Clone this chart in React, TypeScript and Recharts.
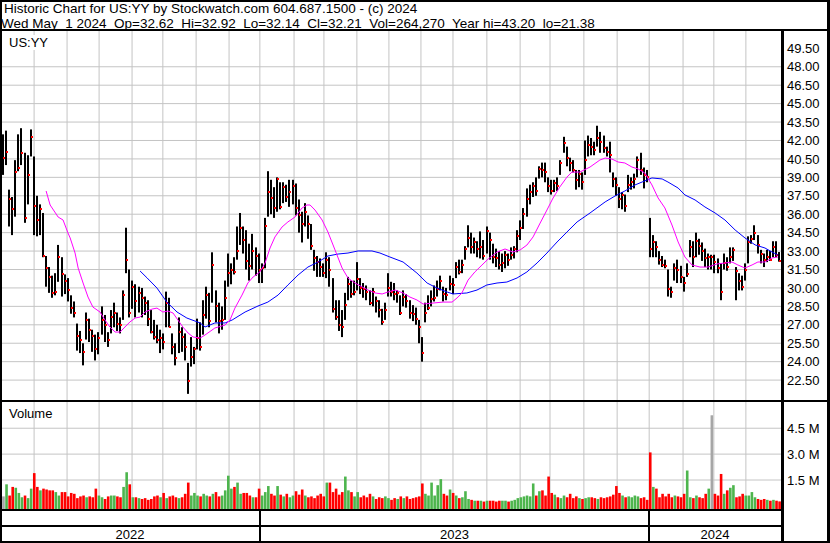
import { ComposedChart, Bar, Line, XAxis, YAxis, CartesianGrid } from 'recharts'

// one bar for every two trading days, May 2022 .. May 1 2024
const highs = [
  42.5, 42.8, 38.0, 37.4, 40.4, 42.5, 43.0, 41.0, 40.8, 42.9,
  40.7, 37.5, 36.8, 36.1, 32.6, 31.7, 31.0, 31.2, 33.5, 32.5,
  31.1, 30.8, 29.4, 28.9, 27.1, 26.5, 25.5, 28.0, 27.5, 26.6,
  26.2, 26.4, 28.5, 27.8, 26.4, 28.2, 28.8, 28.0, 27.6, 29.8,
  34.9, 31.5, 30.6, 30.3, 30.1, 30.0, 29.3, 29.0, 28.2, 27.4,
  27.0, 26.6, 26.3, 29.7, 29.2, 26.3, 25.5, 27.6, 26.8, 26.3,
  23.9, 26.0, 25.2, 27.5, 27.2, 29.0, 30.1, 29.6, 32.9, 29.8,
  28.8, 28.5, 30.6, 32.8, 32.0, 32.5, 35.0, 36.1, 35.0, 34.7,
  33.6, 34.4, 33.3, 32.8, 32.0, 35.7, 39.5, 38.8, 38.2, 39.0,
  38.6, 38.6, 38.4, 38.8, 38.8, 38.5, 37.2, 36.2, 36.9, 35.9,
  35.2, 33.1, 32.6, 32.4, 32.0, 32.9, 32.5, 30.8, 29.0, 29.0,
  28.2, 29.6, 30.9, 30.6, 30.6, 32.1, 30.8, 30.4, 30.2, 29.8,
  30.0, 29.3, 29.0, 28.3, 28.8, 31.2, 30.5, 30.4, 29.8, 29.4,
  29.8, 29.5, 29.0, 28.6, 28.4, 27.4, 26.0, 28.8, 29.4, 29.8,
  30.2, 30.6, 31.0, 30.1, 30.0, 31.0, 30.8, 32.1, 32.3, 32.3,
  33.4, 35.1, 34.5, 34.1, 33.8, 34.6, 33.9, 35.0, 34.5, 33.6,
  33.2, 33.0, 32.8, 33.0, 32.8, 33.3, 33.4, 34.7, 35.5, 36.5,
  38.1, 38.4, 38.6, 39.0, 39.9, 40.2, 40.2, 39.0, 38.8, 38.8,
  39.0, 40.4, 42.3, 41.5, 40.6, 40.4, 39.6, 39.6, 39.4, 42.0,
  42.4, 42.2, 41.9, 43.2, 42.7, 42.4, 41.5, 41.9, 39.4, 39.0,
  38.2, 37.8, 37.6, 39.2, 39.0, 39.3, 40.7, 41.0, 39.8, 39.6,
  35.7, 34.3, 33.8, 33.0, 32.6, 32.3, 31.5, 30.1, 32.0, 32.3,
  31.8, 30.9, 32.0, 33.9, 33.8, 34.5, 34.0, 33.7, 33.2, 32.8,
  32.7, 32.7, 32.4, 32.0, 32.8, 32.5, 33.3, 33.3, 31.7, 31.2,
  31.0, 32.0, 34.2, 34.3, 35.1, 34.3, 33.1, 32.8, 33.1, 33.0,
  33.8, 33.8, 32.92,
]

const lows = [
  39.2, 40.0, 35.0, 34.3, 35.8, 39.5, 40.0, 35.3, 36.8, 40.7,
  34.3, 34.2, 34.3, 32.5, 30.1, 29.6, 29.2, 29.4, 30.5, 29.3,
  29.5, 28.9, 27.9, 27.6, 24.9, 24.7, 23.7, 25.8, 25.6, 24.8,
  24.1, 24.6, 26.2, 25.6, 25.2, 26.3, 26.8, 26.5, 26.3, 27.4,
  31.2, 27.6, 28.3, 27.6, 28.0, 27.6, 27.8, 26.9, 26.3, 25.8,
  25.5, 24.7, 25.0, 26.8, 26.8, 24.6, 23.7, 24.7, 24.8, 24.1,
  21.38, 23.6, 23.8, 25.0, 24.9, 26.2, 27.5, 26.8, 28.8, 27.2,
  26.3, 26.6, 27.4, 30.1, 30.3, 31.1, 32.3, 33.5, 32.8, 31.5,
  30.6, 31.5, 31.0, 30.4, 30.4, 31.6, 35.8, 36.0, 35.7, 36.2,
  36.4, 36.9, 37.0, 36.6, 36.8, 35.9, 34.5, 33.7, 35.0, 34.0,
  33.1, 31.4, 30.9, 30.9, 30.9, 30.8, 30.1, 28.0, 27.4, 26.5,
  26.0, 27.4, 29.0, 29.2, 29.4, 29.8, 29.5, 29.2, 29.0, 28.6,
  28.5, 28.0, 27.6, 27.0, 27.4, 29.3, 29.3, 29.0, 28.8, 27.8,
  28.5, 28.4, 27.5, 27.3, 27.0, 25.5, 24.0, 27.2, 28.2, 28.5,
  28.9, 29.3, 29.8, 28.9, 29.0, 29.8, 29.5, 30.8, 31.1, 31.2,
  32.3, 33.3, 32.8, 32.8, 32.5, 32.4, 32.3, 32.8, 32.3, 32.0,
  31.7, 31.5, 31.3, 31.6, 31.8, 32.3, 32.4, 32.9, 33.9, 34.8,
  35.8, 36.8, 37.4, 37.5, 38.9, 39.0, 38.6, 37.8, 37.6, 37.8,
  37.9, 39.2, 41.0, 39.9, 39.5, 39.4, 38.0, 38.2, 38.0, 39.2,
  40.7, 40.8, 40.8, 41.5, 41.0, 41.0, 40.7, 39.4, 38.2, 37.5,
  36.5, 36.4, 36.2, 37.8, 38.0, 38.1, 39.0, 39.2, 38.1, 38.6,
  32.5, 32.5, 32.5, 31.9, 31.7, 31.6, 29.3, 29.2, 30.6, 30.4,
  30.4, 29.7, 30.9, 32.5, 31.7, 32.5, 32.7, 32.2, 31.7, 31.5,
  31.5, 31.2, 31.2, 29.0, 31.5, 31.4, 32.0, 32.2, 29.0, 29.8,
  29.8, 30.6, 32.0, 33.6, 33.9, 32.8, 32.0, 31.7, 32.1, 32.2,
  32.5, 32.5, 32.14,
]

const closes = [
  40.6, 41.1, 37.2, 36.4, 39.4, 39.8, 41.0, 35.7, 39.2, 42.3,
  36.7, 35.5, 36.4, 32.6, 31.6, 30.9, 29.6, 29.7, 32.5, 31.1,
  30.6, 29.8, 28.4, 28.0, 26.1, 25.8, 24.8, 27.4, 26.6, 26.1,
  25.0, 25.9, 27.4, 27.0, 25.8, 27.6, 28.0, 27.1, 27.0, 29.4,
  32.3, 28.0, 30.1, 28.9, 29.6, 29.2, 28.8, 27.5, 26.4, 26.0,
  25.8, 25.9, 25.6, 28.8, 26.8, 25.2, 24.3, 26.4, 26.0, 25.2,
  22.4, 24.4, 25.0, 25.9, 25.2, 27.8, 29.4, 27.3, 31.9, 28.5,
  27.3, 27.4, 29.2, 31.2, 31.5, 31.3, 33.0, 34.9, 33.9, 32.2,
  31.8, 33.0, 32.6, 31.5, 31.6, 35.0, 37.8, 37.3, 36.5, 38.9,
  36.6, 38.2, 37.4, 37.8, 38.3, 36.5, 35.9, 35.2, 36.2, 35.2,
  33.4, 32.4, 32.1, 31.7, 31.2, 32.3, 31.5, 28.3, 27.6, 27.0,
  26.8, 28.6, 30.3, 29.5, 29.7, 30.7, 30.0, 29.9, 29.7, 28.8,
  29.7, 28.9, 28.2, 27.2, 28.2, 30.0, 29.7, 29.5, 29.6, 28.0,
  29.3, 28.9, 28.0, 27.9, 27.5, 26.8, 24.7, 28.0, 28.4, 29.1,
  29.2, 29.9, 30.6, 29.5, 29.4, 30.3, 30.2, 31.7, 31.3, 31.9,
  33.2, 34.1, 33.3, 33.7, 33.2, 33.3, 32.6, 34.6, 33.9, 32.5,
  32.4, 31.9, 32.0, 32.7, 32.3, 32.7, 33.2, 34.2, 34.9, 36.0,
  37.2, 37.8, 38.3, 37.9, 39.7, 39.6, 39.4, 38.3, 37.9, 38.5,
  38.3, 40.2, 41.8, 40.6, 40.2, 39.6, 38.8, 39.3, 38.6, 40.4,
  41.6, 41.5, 41.2, 42.2, 41.9, 41.4, 41.1, 40.8, 38.9, 38.4,
  37.2, 37.6, 36.7, 38.4, 38.6, 38.9, 40.4, 39.6, 39.2, 39.0,
  33.2, 33.7, 33.3, 32.3, 31.9, 31.8, 29.9, 29.7, 31.6, 31.5,
  30.9, 30.4, 31.1, 33.3, 32.5, 33.8, 33.4, 33.0, 32.4, 32.5,
  32.5, 32.1, 31.6, 29.7, 32.0, 31.7, 32.5, 33.1, 31.4, 30.6,
  30.1, 31.5, 33.7, 34.0, 34.5, 33.5, 32.8, 32.3, 32.5, 32.3,
  33.3, 32.7, 32.21,
]

// millions of shares
const volumes = [
  0.55, 1.25, 0.6, 1.1, 1.05, 0.75, 0.5, 0.6, 0.45, 1.0,
  1.9, 1.1, 0.9, 1.0, 0.95, 0.9, 0.9, 0.8, 0.6, 0.8,
  0.8, 0.55, 0.75, 0.7, 0.45, 0.55, 0.6, 0.5, 0.55, 0.5,
  1.0, 0.6, 0.5, 0.4, 0.55, 0.6, 0.6, 0.55, 0.5, 1.1,
  1.95, 1.25, 0.5, 0.5, 0.45, 0.4, 0.45, 0.35, 0.4, 0.55,
  0.6, 0.5, 0.75, 0.45, 0.55, 0.6, 0.5, 0.45, 0.5, 0.7,
  1.35, 0.6, 0.75, 0.6, 0.55, 0.7, 0.6, 0.55, 0.7, 0.8,
  0.55, 0.6, 0.9, 1.75, 1.0, 1.1, 1.35, 0.7, 0.75, 0.75,
  0.6, 0.5, 0.5, 1.0, 0.6, 0.8, 1.15, 0.7, 0.6, 1.15,
  0.65, 0.55, 0.7, 0.5, 0.6, 0.85, 0.65, 0.95, 0.6, 0.5,
  0.55, 0.45, 0.6, 0.7, 0.55, 1.35, 1.35, 0.8, 1.0, 0.65,
  0.8, 1.7, 0.9, 0.8, 0.55, 0.8, 0.5, 0.6, 0.5, 0.7,
  0.55, 0.4, 0.5, 0.45, 0.55, 0.45, 0.35, 0.45, 0.4, 0.55,
  0.45, 0.55, 0.4, 0.45, 0.5, 0.55, 1.3, 0.7, 0.6, 1.35,
  0.6, 1.2, 1.55, 0.7, 0.6, 0.95, 0.75, 0.6, 0.45, 0.5,
  0.85, 0.4, 0.35, 0.3, 0.3, 0.3, 0.25, 0.3, 0.3, 0.3,
  0.25, 0.3, 0.3, 0.3, 0.25, 0.3, 0.35, 0.45, 0.5, 0.55,
  0.6, 0.55, 1.3, 0.6, 0.85, 0.9, 0.6, 1.7, 0.75, 0.65,
  0.5, 0.45, 0.6, 0.5, 0.7, 0.45, 0.55, 0.45, 0.4, 0.45,
  0.5, 0.5, 0.45, 0.4, 0.5, 0.45, 0.5, 0.55, 0.65, 1.15,
  0.75, 0.6, 0.5, 0.55, 0.5, 0.6, 0.55, 0.45, 0.5, 0.35,
  3.1, 1.1, 1.0, 0.5, 0.7, 0.55, 0.7, 0.5, 0.6, 0.55,
  0.5, 0.7, 2.05, 0.5, 0.45, 0.6, 0.5, 0.45, 0.7, 1.0,
  5.25, 0.7, 0.6, 1.85, 0.7, 0.9, 1.05, 1.2, 0.5, 0.55,
  0.7, 0.6, 0.6, 0.8, 0.5, 0.4, 0.35, 0.4, 0.35, 0.3,
  0.35, 0.3, 0.26,
]

// magenta (short) moving average
const fastMaIndex = [
  14.0, 15.3, 17.9, 19.5, 21.1, 21.8, 23.4, 24.4, 26.0, 27.6, 29.2, 31.5, 33.1, 34.7, 36.4, 38.0,
  39.6, 41.2, 42.9, 44.5, 46.1, 48.4, 50.0, 51.9, 53.6, 55.2, 56.8, 58.4, 60.1, 61.7, 64.0, 65.6,
  68.8, 72.1, 73.7, 75.3, 77.6, 79.5, 81.2, 83.4, 85.1, 86.7, 88.3, 90.6, 92.5, 94.8, 97.1, 98.7,
  99.7, 101.3, 103.6, 105.5, 107.8, 110.1, 112.0, 114.3, 116.6, 118.5, 120.8, 123.1, 125.0, 127.3,
  129.9, 132.1, 134.4, 136.4, 139.6, 142.9, 145.8, 147.4, 149.0, 151.0, 153.2, 155.5, 157.5, 160.4,
  163.0, 165.6, 167.9, 170.1, 172.1, 174.4, 176.6, 178.6, 180.8, 183.1, 184.7, 187.3, 190.6, 193.8,
  195.5, 197.7, 199.7, 201.9, 204.2, 206.2, 208.4, 210.7, 212.7, 214.9, 217.2, 219.2, 221.4, 223.7,
  226.3, 228.9, 231.8, 234.4, 236.7, 238.6, 240.9, 243.2, 245.1, 247.4, 249.7, 251.6,
]
const fastMaValue = [
  37.89, 36.75, 35.77, 35.53, 34.47, 34.07, 32.84, 31.62, 30.40, 29.26, 28.44, 28.04, 27.39, 26.82, 26.41, 26.41,
  26.82, 27.23, 27.55, 27.63, 28.04, 28.28, 28.36, 28.04, 28.12, 27.96, 27.39, 26.82, 26.33, 26.01, 25.92, 26.17,
  26.74, 26.98, 27.39, 28.36, 29.42, 30.40, 30.89, 31.30, 32.03, 33.25, 34.15, 34.96, 35.37, 35.77, 36.51, 36.75,
  36.75, 36.34, 35.53, 34.55, 33.09, 31.62, 30.81, 30.40, 30.08, 29.83, 29.59, 29.51, 29.67, 29.83,
  29.59, 29.26, 29.02, 28.69, 28.77, 28.85, 28.85, 29.18, 29.59, 30.64, 31.30, 31.86, 32.35, 32.92,
  33.17, 32.92, 33.09, 33.49, 34.15, 35.28, 36.34, 37.32, 38.22, 39.02, 39.43, 39.43, 39.84, 40.41,
  40.57, 40.49, 40.25, 40.17, 39.84, 39.68, 39.35, 38.38, 37.32, 36.51, 35.12, 33.74, 32.52, 31.87,
  31.70, 31.70, 31.95, 32.03, 32.11, 31.87, 31.62, 31.87, 32.11, 32.11, 32.44, 32.52,
]

// blue (long) moving average
const slowMaIndex = [
  44.5, 46.8, 50.0, 53.2, 56.5, 59.7, 64.0, 65.6, 68.8, 72.1, 74.4, 78.6, 82.8, 86.0, 89.3, 92.5,
  95.8, 99.0, 102.3, 105.5, 108.8, 112.0, 115.3, 119.8, 122.4, 125.6, 129.9, 134.4, 137.7, 140.9,
  144.2, 146.1, 150.6, 153.9, 157.1, 160.4, 163.6, 166.9, 170.1, 173.4, 176.6, 179.9, 183.1, 186.4,
  190.6, 195.5, 198.7, 201.9, 205.2, 207.5, 210.7, 214.0, 215.9, 219.2, 221.4, 224.7, 227.9, 231.2,
  234.4, 237.7, 240.9, 244.2, 247.4, 249.7, 251.6,
]
const slowMaValue = [
  31.38, 30.81, 29.99, 28.85, 28.04, 27.55, 27.15, 26.82, 27.15, 27.15, 27.39, 28.04, 28.53, 28.85, 29.42, 30.24,
  31.05, 31.70, 32.11, 32.60, 32.76, 32.84, 33.01, 33.01, 32.84, 32.52, 32.11, 31.21, 30.40, 29.99,
  29.67, 29.51, 29.59, 29.83, 30.24, 30.40, 30.48, 30.81, 31.30, 32.03, 32.84, 33.74, 34.55, 35.37,
  36.10, 37.00, 37.48, 37.89, 38.38, 38.62, 38.95, 38.87, 38.62, 38.13, 37.57, 37.16, 36.59, 36.10,
  35.53, 34.72, 34.07, 33.50, 33.25, 32.92, 32.68,
]

const priceTicks = [22.5, 24, 25.5, 27, 28.5, 30, 31.5, 33, 34.5, 36, 37.5, 39, 40.5, 42, 43.5, 45, 46.5, 48, 49.5]
const volumeTicks = [1.5, 3, 4.5]
// month starts, in bar index units
const monthTicks = [10.1, 20.8, 31.2, 41.9, 51.9, 62.7, 73.4, 83.4, 94.5, 104.2, 114.9, 125.3, 135.7, 146.1, 157.1, 167.9, 177.6, 188.6, 199.4, 209.8, 220.8, 230.8, 241.2]
const yearStarts = [83.4, 209.8]
const years = ['2022', '2023', '2024']

const FONT = '"Liberation Sans", Arial, sans-serif'
const GRID = '#c4c4c4'
const X_MIN = -0.974
const X_MAX = 252.6
const PLOT_W = 781
const CHART_W = 830
const P_MIN = 20.88
const P_MAX = 50.91
const PRICE_H = 369
const V_MIN = -0.18
const V_MAX = 6.02
const VOL_H = 107

const xPx = (k: number) => ((k - X_MIN) / (X_MAX - X_MIN)) * PLOT_W
const priceY = (p: number) => ((P_MAX - p) / (P_MAX - P_MIN)) * PRICE_H
const volY = (v: number) => ((V_MAX - v) / (V_MAX - V_MIN)) * VOL_H

const priceData = highs.map((h, i) => ({ k: i, high: h, low: lows[i], close: closes[i], range: [lows[i], h] }))
const volumeData = volumes.map((v, i) => ({
  k: i,
  range: [V_MIN, v],
  dir: i === 0 ? 0 : Math.sign(closes[i] - closes[i - 1]),
}))
const fastMa = fastMaIndex.map((k, i) => ({ k, v: fastMaValue[i] }))
const slowMa = slowMaIndex.map((k, i) => ({ k, v: slowMaValue[i] }))

const monthLines = monthTicks.map(xPx)

function PriceBar(props: any) {
  const { x, y, width, height, payload } = props
  if (x == null || y == null) return null
  const cx = Math.round(x + width / 2)
  const span = payload.high - payload.low
  const cy = y + (span > 0 ? ((payload.high - payload.close) / span) * height : 0)
  return (
    <g>
      <rect x={cx - 1} y={y} width={2} height={Math.max(height, 1)} fill="#000" />
      <rect x={cx} y={Math.round(cy) - 1} width={2} height={2} fill="#ff0000" />
    </g>
  )
}

function VolumeBar(props: any) {
  const { x, y, width, height, payload } = props
  if (x == null || y == null) return null
  const cx = x + width / 2
  const fill = payload.dir > 0 ? '#4db54d' : payload.dir < 0 ? '#ff0000' : '#a6a6a6'
  return <rect x={cx - 1.3} y={y} width={2.6} height={height} fill={fill} />
}

const tickStyle = { fontSize: 13, fill: '#000', fontFamily: FONT }

function Rule(props: { left: number; top: number; width: number; height: number }) {
  return (
    <div
      style={{
        position: 'absolute',
        left: props.left,
        top: props.top,
        width: props.width,
        height: props.height,
        background: '#000',
      }}
    />
  )
}

export default function App() {
  const bounds = [X_MIN, ...yearStarts, X_MAX]
  return (
    <div
      style={{
        position: 'absolute',
        left: 0,
        top: 0,
        width: 830,
        height: 543,
        background: '#fff',
        fontFamily: FONT,
        color: '#000',
        overflow: 'hidden',
      }}
    >
      <div style={{ position: 'absolute', left: 4, top: 1, fontSize: 13.5, lineHeight: '15px', whiteSpace: 'pre' }}>
        Historic Chart for US:YY by Stockwatch.com 604.687.1500 - (c) 2024
      </div>
      <div style={{ position: 'absolute', left: 1, top: 16, fontSize: 13.5, lineHeight: '15px', whiteSpace: 'pre' }}>
        {'Wed May  1 2024  Op=32.62  Hi=32.92  Lo=32.14  Cl=32.21  Vol=264,270  Year hi=43.20  lo=21.38'}
      </div>

      <div style={{ position: 'absolute', left: 0, top: 31 }}>
        <ComposedChart width={CHART_W} height={PRICE_H} data={priceData} margin={{ top: 0, right: 0, left: 0, bottom: 0 }}>
          <CartesianGrid
            stroke={GRID}
            horizontalPoints={priceTicks.slice(0, -1).map(priceY)}
            verticalPoints={monthLines}
          />
          <XAxis dataKey="k" type="number" domain={[X_MIN, X_MAX]} allowDataOverflow hide />
          <YAxis
            orientation="right"
            width={CHART_W - PLOT_W}
            domain={[P_MIN, P_MAX]}
            ticks={priceTicks}
            allowDataOverflow
            tickFormatter={(v: number) => v.toFixed(2)}
            tick={tickStyle}
            tickLine={false}
            axisLine={false}
            tickSize={0}
            tickMargin={6}
            interval={0}
          />
          <Bar dataKey="range" barSize={2} shape={<PriceBar />} isAnimationActive={false} />
          <Line data={slowMa} dataKey="v" type="linear" stroke="#0000ff" strokeWidth={1} dot={false} activeDot={false} isAnimationActive={false} />
          <Line data={fastMa} dataKey="v" type="linear" stroke="#ff00ff" strokeWidth={1} dot={false} activeDot={false} isAnimationActive={false} />
        </ComposedChart>
      </div>

      <div style={{ position: 'absolute', left: 0, top: 402 }}>
        <ComposedChart width={CHART_W} height={VOL_H} data={volumeData} margin={{ top: 0, right: 0, left: 0, bottom: 0 }}>
          <CartesianGrid stroke={GRID} horizontalPoints={volumeTicks.map(volY)} verticalPoints={monthLines} />
          <XAxis dataKey="k" type="number" domain={[X_MIN, X_MAX]} allowDataOverflow hide />
          <YAxis
            orientation="right"
            width={CHART_W - PLOT_W}
            domain={[V_MIN, V_MAX]}
            ticks={volumeTicks}
            allowDataOverflow
            tickFormatter={(v: number) => `${v.toFixed(1)} M`}
            tick={tickStyle}
            tickLine={false}
            axisLine={false}
            tickSize={0}
            tickMargin={6}
            interval={0}
          />
          <Bar dataKey="range" barSize={2} shape={<VolumeBar />} isAnimationActive={false} />
        </ComposedChart>
      </div>

      <div style={{ position: 'absolute', left: 9, top: 35, fontSize: 13, lineHeight: '15px', background: '#fff' }}>US:YY</div>
      <div style={{ position: 'absolute', left: 9, top: 406, fontSize: 13, lineHeight: '15px' }}>Volume</div>

      {years.map((yr, i) => {
        const a = xPx(bounds[i])
        const b = xPx(bounds[i + 1])
        return (
          <div
            key={yr}
            style={{ position: 'absolute', left: a, width: b - a, top: 528, textAlign: 'center', fontSize: 13, lineHeight: '14px' }}
          >
            {yr}
          </div>
        )
      })}
      {yearStarts.map((k) => (
        <Rule key={k} left={Math.round(xPx(k)) - 1} top={511} width={2} height={30} />
      ))}

      {/* frame */}
      <Rule left={0} top={0} width={830} height={2} />
      <Rule left={0} top={0} width={2} height={543} />
      <Rule left={827} top={0} width={3} height={543} />
      <Rule left={0} top={541} width={830} height={2} />
      <Rule left={0} top={29} width={830} height={2} />
      <Rule left={0} top={400} width={830} height={2} />
      <Rule left={0} top={509} width={PLOT_W} height={2} />
      <Rule left={0} top={525} width={PLOT_W} height={2} />
      <Rule left={PLOT_W} top={31} width={3} height={510} />
    </div>
  )
}
